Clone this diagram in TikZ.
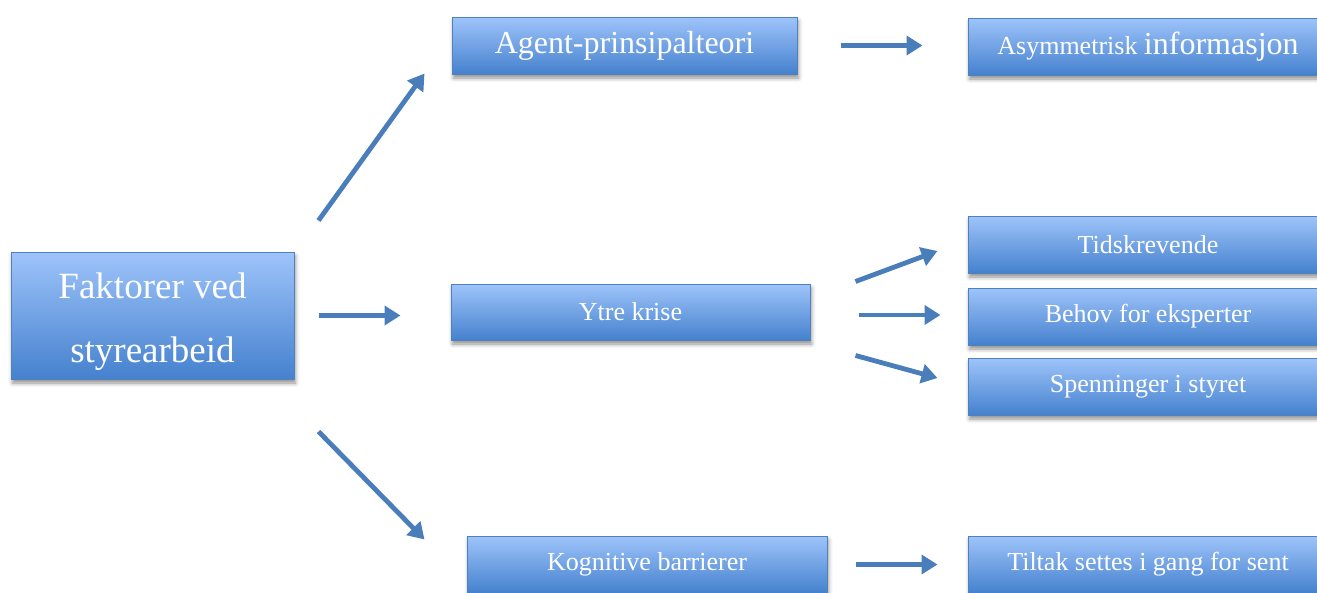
\documentclass[tikz,border=0pt]{standalone}
\usepackage{fontspec}
\setmainfont{Liberation Serif}
\usetikzlibrary{arrows.meta,shadows.blur}

\definecolor{boxtop}{HTML}{9EC4FA}
\definecolor{boxbot}{HTML}{4581CE}
\definecolor{boxedge}{HTML}{4F81BD}
\definecolor{arrowblue}{HTML}{4A7EBB}

\tikzset{
  box/.style={draw=boxedge, line width=1pt, top color=boxtop, bottom color=boxbot,
    text=white, inner sep=0pt, minimum height=57pt,
    blur shadow={shadow xshift=1.5pt, shadow yshift=-4pt, shadow blur radius=4pt, shadow opacity=45}},
  midtext/.style={font=\fontsize{26}{30}\selectfont},
  bigtext/.style={font=\fontsize{32}{36}\selectfont},
  arr/.style={draw=arrowblue, line width=4.8pt, -{Triangle[length=16pt,width=19pt]}}
}

\begin{document}
\begin{tikzpicture}[x=1pt,y=1pt]
\useasboundingbox (0,0) rectangle (1317,-592);
\clip (0,0) rectangle (1317,-592);

% left root box
\node[box, minimum width=283pt, minimum height=127pt, align=center,
      font=\fontsize{37}{64}\selectfont] (fak) at (152.5,-315.5)
  {\rule{0pt}{37pt}Faktorer ved\\styrearbeid};

% middle column
\node[box, bigtext, minimum width=345pt] (agent) at (624.5,-45.5) {Agent-prinsipalteori};
\node[box, midtext, minimum width=359pt, minimum height=56pt] (ytre) at (630.5,-312) {Ytre krise};
\node[box, midtext, minimum width=360pt] (kogn) at (647,-564.5) {Kognitive barrierer};

% right column
\node[box, minimum width=360pt] (asym) at (1148,-46.5)
  {{\fontsize{26}{30}\selectfont Asymmetrisk\ }{\fontsize{32}{36}\selectfont informasjon}};
\node[box, midtext, minimum width=360pt] (tids) at (1148,-244.5) {Tidskrevende};
\node[box, midtext, minimum width=360pt] (behov) at (1148,-316.5) {Behov for eksperter};
\node[box, midtext, minimum width=360pt] (spenn) at (1148,-386.5) {Spenninger i styret};
\node[box, midtext, minimum width=360pt] (tiltak) at (1148,-564.5) {Tiltak settes i gang for sent};

% connectors
\draw[arr] ([shift={(24,31)}]fak.north east) -- ([shift={(-27,1)}]agent.south west);
\draw[arr] ([xshift=24pt]fak.east) -- ([xshift=-50pt]ytre.west |- fak.east);
\draw[arr] ([shift={(24,-52)}]fak.south east) -- ([shift={(-42,-4)}]kogn.north west);

\draw[arr] ([xshift=43pt]agent.east) -- ([xshift=-45pt]asym.west |- agent.east);

\draw[arr] ([shift={(45,2)}]ytre.north east) -- ([shift={(-30,-6.5)}]tids.west);
\draw[arr] ([shift={(48,-3)}]ytre.east) -- ([shift={(-27,1.5)}]behov.west);
\draw[arr] ([shift={(45,-15)}]ytre.south east) -- ([shift={(-30,8.5)}]spenn.west);

\draw[arr] ([xshift=28pt]kogn.east) -- ([xshift=-30pt]tiltak.west);
\end{tikzpicture}
\end{document}
